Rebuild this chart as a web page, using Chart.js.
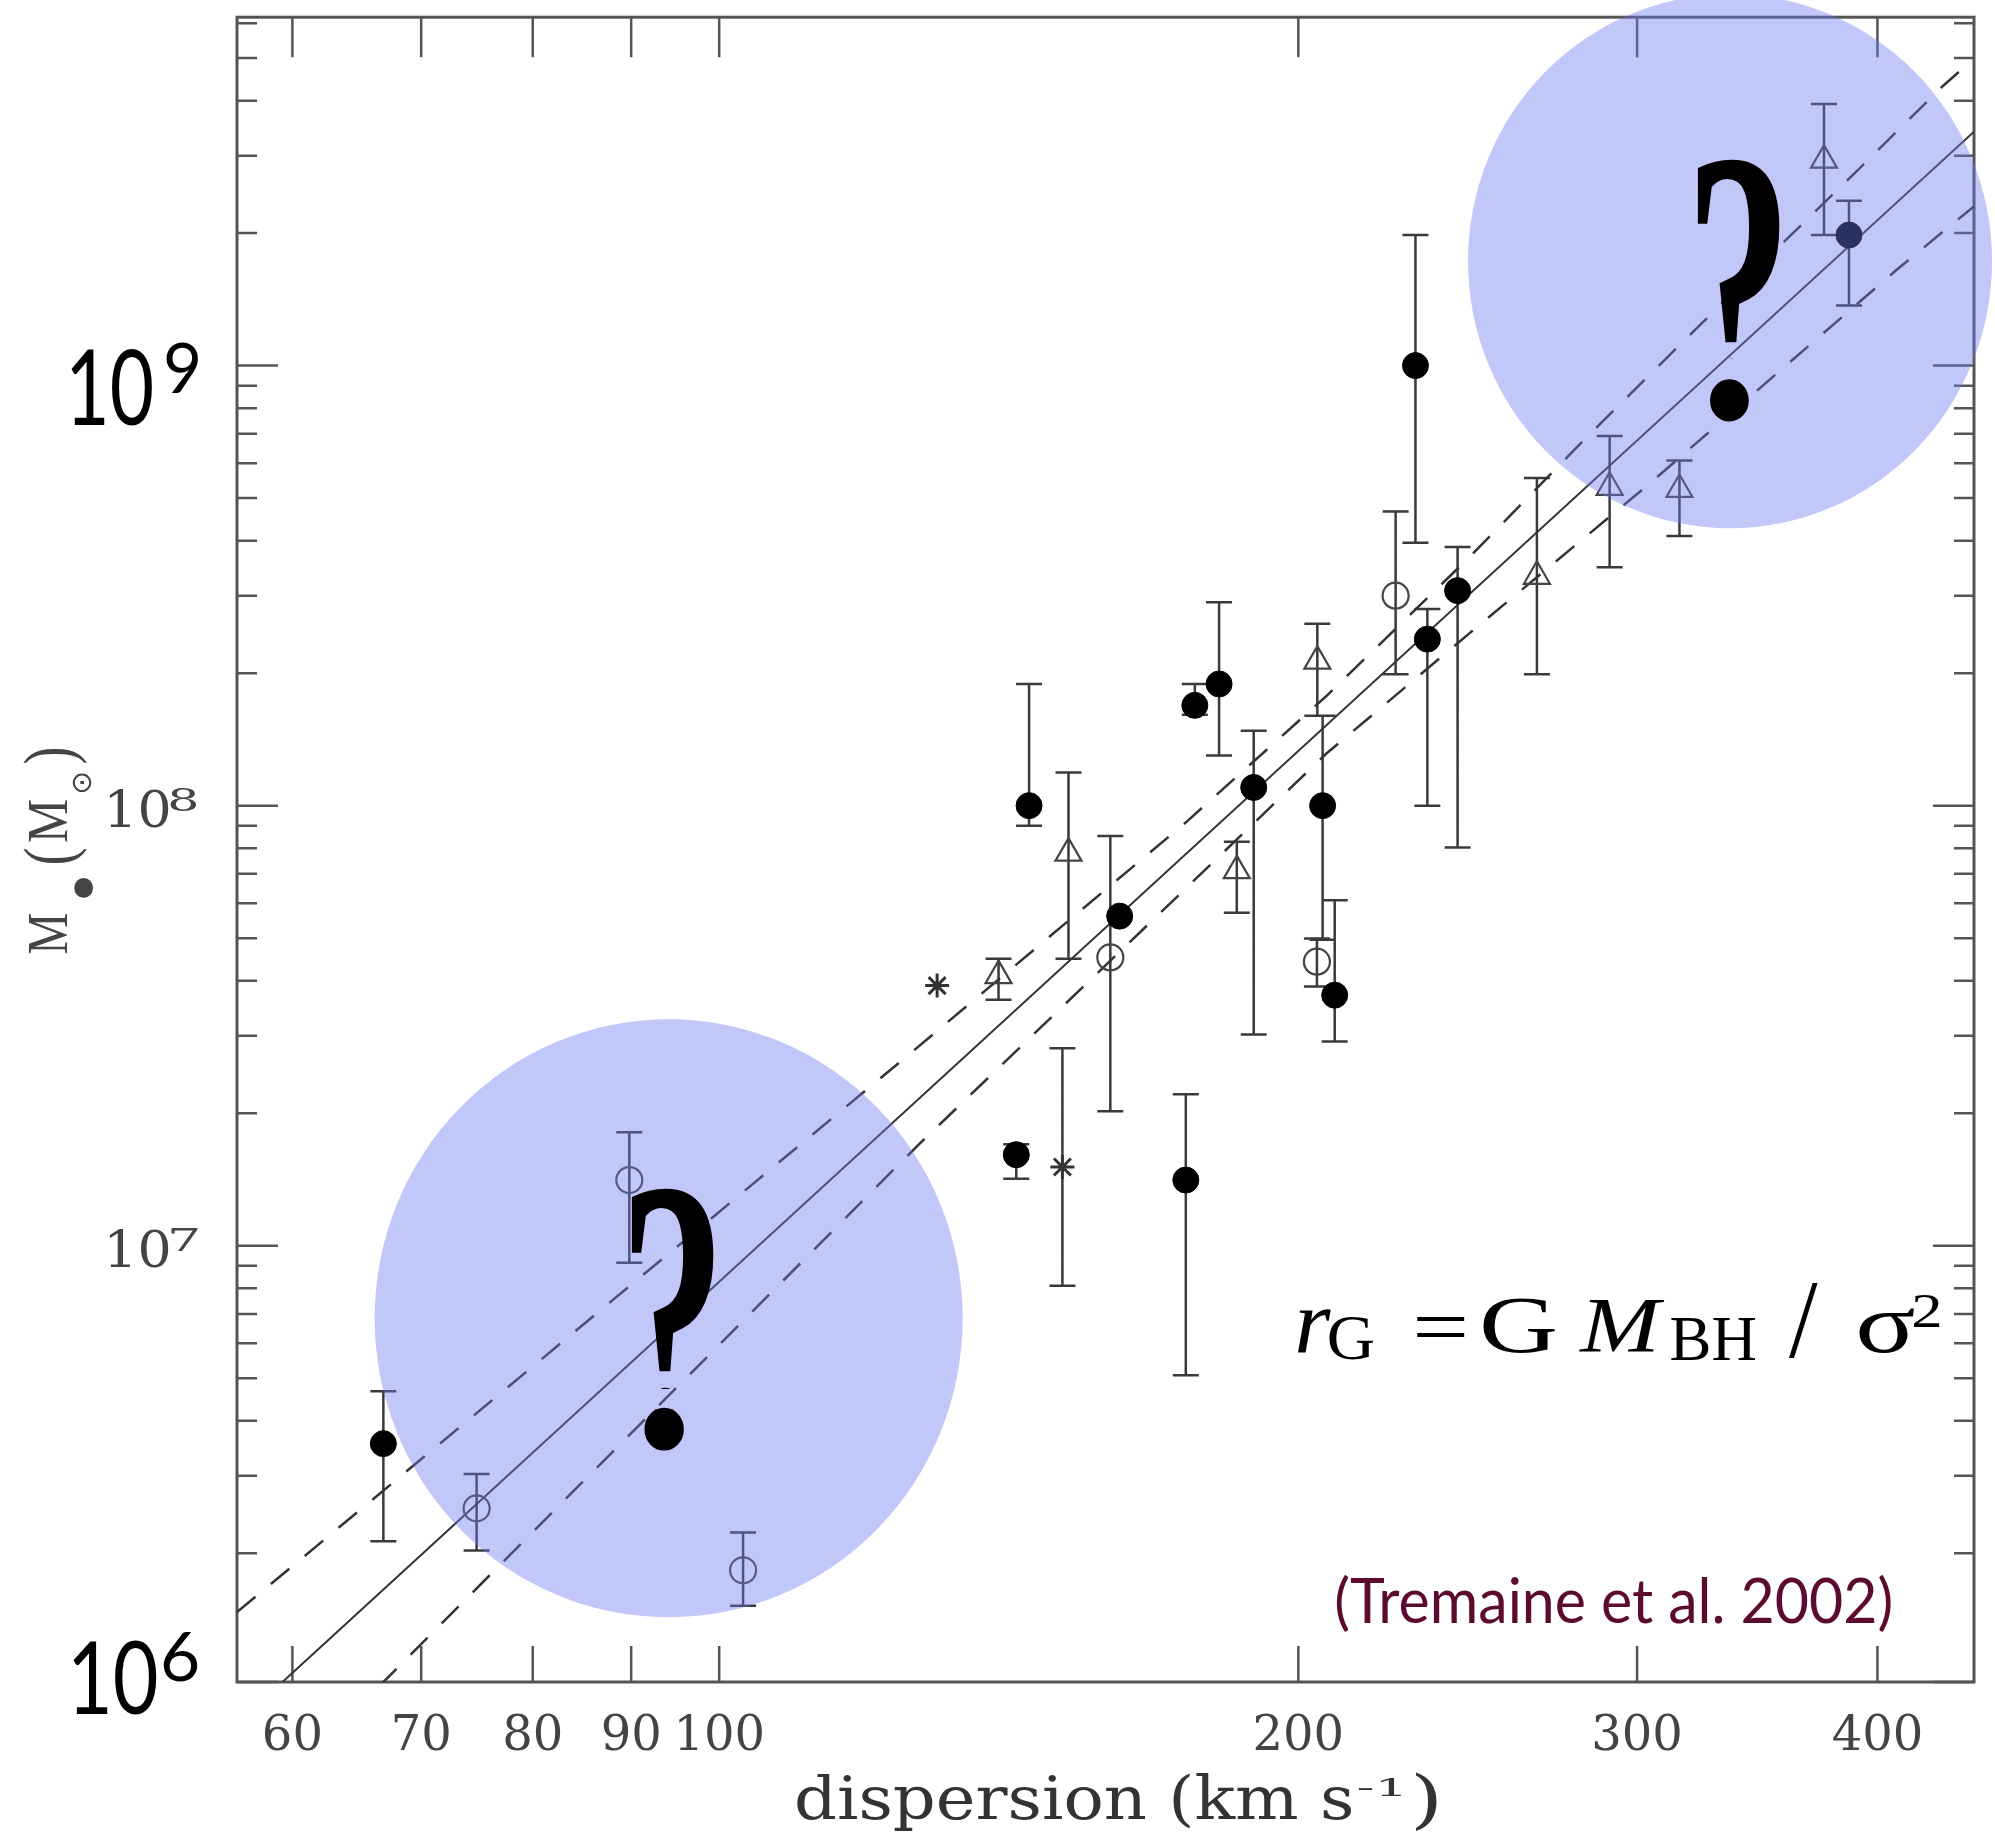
<!DOCTYPE html>
<html lang="en">
<head>
  <meta charset="UTF-8" />
  <title>M-sigma relation (Tremaine et al. 2002)</title>
  <script src="https://cdn.jsdelivr.net/npm/chart.js"></script>
  <style>
    html, body { margin: 0; padding: 0; background: #fff; }
    canvas { display: block; }
  </style>
</head>
<body>
<canvas id="msigma" width="1995" height="1840"></canvas>

<script>
// ---- values: sigma in km/s, mass in solar masses ----

// filled circles
const filledSigma = [66.9, 144.9, 142.7, 161.5, 176.7, 181.9, 189.6, 174.8, 205.9, 208.9, 230.1, 233.4, 242.0, 386.6];
const filledMass  = [3.55e6, 1.0e8, 1.61e7, 5.61e7, 1.69e8, 1.89e8, 1.1e8, 1.41e7, 1.0e8, 3.71e7, 1.0e9, 2.39e8, 3.08e8, 1.98e9];
const filledLo    = [2.13e6, 9.0e7, 1.42e7, null, 1.61e8, 1.3e8, 3.02e7, 5.08e6, 4.96e7, 2.91e7, 3.96e8, 1.0e8, 8.03e7, 1.37e9];
const filledHi    = [4.67e6, 1.89e8, 1.70e7, null, 1.89e8, 2.9e8, 1.48e8, 2.21e7, 1.6e8, 6.1e7, 1.98e9, 2.8e8, 3.87e8, 2.37e9];

// open circles
const openSigma = [224.7, 159.7, 204.5, 89.8, 74.8, 102.9];
const openMass  = [3.0e8, 4.52e7, 4.42e7, 1.41e7, 2.53e6, 1.83e6];
const openLo    = [1.99e8, 2.02e7, 3.88e7, 9.15e6, 2.03e6, 1.52e6];
const openHi    = [4.66e8, 8.53e7, 4.99e7, 1.81e7, 3.03e6, 2.23e6];

// open triangles
const triSigma = [139.7, 151.9, 185.8, 204.6, 266.1, 290.3, 315.6, 375.2];
const triMass  = [4.11e7, 7.8e7, 7.12e7, 2.13e8, 3.32e8, 5.29e8, 5.23e8, 2.93e9];
const triLo    = [3.62e7, 4.49e7, 5.71e7, 1.6e8, 1.99e8, 3.48e8, 4.1e8, 1.98e9];
const triHi    = [4.49e7, 1.19e8, 8.28e7, 2.59e8, 5.55e8, 6.92e8, 6.09e8, 3.93e9];

// asterisks
const starSigma = [129.8, 150.8];
const starMass  = [3.9e7, 1.51e7];
const starLo    = [null, 8.11e6];
const starHi    = [null, 2.81e7];

// best fit (solid) and 1-sigma band (dashed)
const fitSigma = [59.0, 449];
const fitMass  = [1.0e6, 3.4e9];
const bandHiSigma = [56.15, 87.4, 125, 175, 206.7, 245.6, 283.6, 358.5, 390, 432.6, 449];
const bandHiMass  = [1.47e6, 7.33e6, 2.68e7, 9.2e7, 1.77e8, 3.68e8, 7.0e8, 1.93e9, 2.76e9, 4.32e9, 4.98e9];
const bandLoSigma = [66.6, 127, 206.7, 245.6, 304, 408.6, 438.2, 449];
const bandLoMass  = [1.0e6, 1.70e7, 1.31e8, 2.47e8, 5.36e8, 1.64e9, 2.11e9, 2.30e9];

// axis ticks
const xTickValues = [60, 70, 80, 90, 100, 200, 300, 400];
const yDecades = [1e6, 1e7, 1e8, 1e9];
const ySmallLabels = [1e7, 1e8];
const ySmallExps = ['7', '8'];

// highlight circles (data-space centres) and the slide overlays
const highlights = [
  { sigma: 94.13, mass: 6.84e6, rx: 294, ry: 299 },
  { sigma: 335.3, mass: 1.727e9, rx: 262, ry: 267 }
];
// hook box, where the hook is cut, dot box
const questionMarks = [
  { box: [629, 1185, 716, 1451], cut: 1389, dot: [641.4, 1405.5, 686.9, 1451] },
  { box: [1695, 156, 1782, 422], cut: 359, dot: [1707, 377.2, 1751.8, 421.9] }
];

const pts = (s, m) => s.map((v, i) => ({ x: v, y: m[i] }));

// squeeze a string so its ink fills a box
function fitInk(ctx, text, font, x0, y0, x1, y1, color) {
  ctx.save();
  ctx.font = font;
  ctx.textAlign = 'left';
  ctx.textBaseline = 'alphabetic';
  const m = ctx.measureText(text);
  const w = m.actualBoundingBoxLeft + m.actualBoundingBoxRight;
  const h = m.actualBoundingBoxAscent + m.actualBoundingBoxDescent;
  ctx.translate(x0, y0);
  ctx.scale((x1 - x0) / w, (y1 - y0) / h);
  ctx.fillStyle = color;
  ctx.fillText(text, m.actualBoundingBoxLeft, m.actualBoundingBoxAscent);
  ctx.restore();
}

const errorSets = [
  { s: filledSigma, lo: filledLo, hi: filledHi },
  { s: openSigma, lo: openLo, hi: openHi },
  { s: triSigma, lo: triLo, hi: triHi },
  { s: starSigma, lo: starLo, hi: starHi }
];

// frame, inward ticks, error bars
const framePlugin = {
  id: 'frame',
  beforeDatasetsDraw(chart) {
    const { ctx, chartArea: a, scales: { x, y } } = chart;
    ctx.save();
    ctx.strokeStyle = '#555';
    ctx.lineWidth = 2.5;
    ctx.beginPath();
    xTickValues.forEach(v => {
      const px = x.getPixelForValue(v);
      ctx.moveTo(px, a.bottom); ctx.lineTo(px, a.bottom - 36);
      ctx.moveTo(px, a.top); ctx.lineTo(px, a.top + 40);
    });
    yDecades.forEach(d => {
      for (let m = 1; m <= 9; m++) {
        const v = m * d;
        if (v < 0.99e6 || v > y.max) continue;
        const py = Math.min(y.getPixelForValue(v), a.bottom);
        const len = m === 1 ? 41 : 20;
        ctx.moveTo(a.left, py); ctx.lineTo(a.left + len, py);
        ctx.moveTo(a.right, py); ctx.lineTo(a.right - len, py);
      }
    });
    ctx.stroke();
    ctx.lineWidth = 3;
    ctx.strokeRect(a.left, a.top, a.right - a.left, a.bottom - a.top);

    // error bars
    ctx.strokeStyle = '#3a3a3a';
    ctx.lineWidth = 2.5;
    ctx.beginPath();
    errorSets.forEach(set => set.s.forEach((sg, i) => {
      if (set.lo[i] == null) return;
      const px = x.getPixelForValue(sg);
      const y0 = y.getPixelForValue(set.lo[i]);
      const y1 = y.getPixelForValue(set.hi[i]);
      ctx.moveTo(px, y0); ctx.lineTo(px, y1);
      ctx.moveTo(px - 13, y0); ctx.lineTo(px + 13, y0);
      ctx.moveTo(px - 13, y1); ctx.lineTo(px + 13, y1);
    }));
    ctx.stroke();
    ctx.restore();
  },
  afterDatasetsDraw(chart) {
    const { ctx, scales: { x, y } } = chart;
    ctx.save();

    // translucent highlight circles
    ctx.fillStyle = 'rgba(104, 119, 240, 0.41)';
    highlights.forEach(h => {
      ctx.beginPath();
      ctx.ellipse(x.getPixelForValue(h.sigma), y.getPixelForValue(h.mass), h.rx, h.ry, 0, 0, Math.PI * 2);
      ctx.fill();
    });
    // question marks: narrow hook plus a round dot
    const qf = 'bold 300px "Liberation Serif"';
    questionMarks.forEach(q => {
      ctx.save();
      ctx.beginPath();
      ctx.rect(q.box[0] - 30, q.box[1] - 30, q.box[2] - q.box[0] + 60, q.cut - q.box[1] + 30);
      ctx.clip();
      fitInk(ctx, '?', qf, q.box[0], q.box[1], q.box[2], q.box[3], '#000');
      ctx.restore();
      fitInk(ctx, '.', qf, q.dot[0], q.dot[1], q.dot[2], q.dot[3], '#000');
    });

    // small y tick labels (original figure)
    ySmallLabels.forEach((v, i) => {
      const py = y.getPixelForValue(v);
      fitInk(ctx, '10', '52px "DejaVu Serif"', 109.4, py - 17, 168.5, py + 22, '#444');
      fitInk(ctx, ySmallExps[i], '30px "DejaVu Serif"', 170.5, py - 18, 197.5, py + 5, '#444');
    });
    // big overlay labels
    fitInk(ctx, '10', '100px Lato', 71.4, 348.2, 151.8, 426.3, '#000');
    fitInk(ctx, '9', '70px Lato', 166, 341.5, 198.7, 392.9, '#000');
    fitInk(ctx, '10', '100px Lato', 73.3, 1639.2, 156.3, 1714.9, '#000');
    fitInk(ctx, '6', '70px Lato', 163, 1632.3, 197.7, 1682.2, '#000');

    // y title M.(Msun), rotated
    ctx.save();
    ctx.translate(67, 953.6);
    ctx.rotate(-Math.PI / 2);
    const yf = '54px "Liberation Serif"';
    fitInk(ctx, 'M', yf, 0, -38, 40.2, 0, '#444');
    fitInk(ctx, '\u2022', yf, 55.8, 6.7, 75.9, 26.75, '#444');
    fitInk(ctx, '(', yf, 90, -45, 105, 20, '#444');
    fitInk(ctx, 'M', yf, 111.6, -38, 154, 0, '#444');
    fitInk(ctx, '\u2299', '30px "DejaVu Sans"', 160.7, 4.4, 180.8, 24.5, '#444');
    fitInk(ctx, ')', yf, 190, -45, 205, 20, '#444');
    ctx.restore();

    // x title
    fitInk(ctx, 'dispersion (km s', '46px "DejaVu Serif"', 797, 1772, 1352, 1832, '#333');
    fitInk(ctx, '-1', '26px "DejaVu Serif"', 1358.5, 1777, 1401, 1796, '#333');
    fitInk(ctx, ')', '46px "DejaVu Serif"', 1415.6, 1772, 1437.8, 1832, '#333');

    // formula
    const ff = '78px "Liberation Serif"';
    const fi = 'italic 78px "Liberation Serif"';
    const fs = '60px "Liberation Serif"';
    fitInk(ctx, 'r', fi, 1297.9, 1308.3, 1331.3, 1351.7, '#000');
    fitInk(ctx, 'G', fs, 1329.1, 1318.3, 1373.8, 1360, '#000');
    fitInk(ctx, '=', ff, 1416.2, 1316.7, 1465.3, 1337.3, '#000');
    fitInk(ctx, 'G', ff, 1483.1, 1298.3, 1554.6, 1352.7, '#000');
    fitInk(ctx, 'M', fi, 1579.1, 1300, 1664.8, 1351.7, '#000');
    fitInk(ctx, 'BH', fs, 1670.6, 1318.3, 1755.4, 1360, '#000');
    fitInk(ctx, '/', ff, 1788.9, 1284, 1817.9, 1360, '#000');
    fitInk(ctx, '\u03c3', ff, 1858, 1308.3, 1914, 1352.7, '#000');
    fitInk(ctx, '2', '46px "Liberation Serif"', 1913.9, 1294, 1939.8, 1326.7, '#000');

    // citation
    fitInk(ctx, '(Tremaine et al. 2002)', '55px Lato', 1336.3, 1575.5, 1891.5, 1632.3, '#5c0a2e');
    ctx.restore();
  }
};

const markerBase = { showLine: false, order: 1 };
const lineBase = { showLine: true, pointRadius: 0, fill: false, tension: 0, order: 3, borderColor: '#333' };

new Chart(document.getElementById('msigma').getContext('2d'), {
  type: 'scatter',
  data: {
    datasets: [
      { ...lineBase, label: 'fit', data: pts(fitSigma, fitMass), borderWidth: 2 },
      { ...lineBase, label: 'band upper', data: pts(bandHiSigma, bandHiMass), borderWidth: 2.5, borderDash: [24, 20] },
      { ...lineBase, label: 'band lower', data: pts(bandLoSigma, bandLoMass), borderWidth: 2.5, borderDash: [24, 20] },
      { ...markerBase, label: 'filled', data: pts(filledSigma, filledMass), pointStyle: 'circle', pointRadius: 13,
        backgroundColor: '#000', borderColor: '#000', borderWidth: 1 },
      { ...markerBase, label: 'open', data: pts(openSigma, openMass), pointStyle: 'circle', pointRadius: 13,
        backgroundColor: 'rgba(0,0,0,0)', borderColor: '#444', borderWidth: 2.2 },
      { ...markerBase, label: 'triangle', data: pts(triSigma, triMass), pointStyle: 'triangle', pointRadius: 15,
        backgroundColor: 'rgba(0,0,0,0)', borderColor: '#444', borderWidth: 2.2 },
      { ...markerBase, label: 'star', data: pts(starSigma, starMass), pointStyle: 'star', pointRadius: 12,
        backgroundColor: '#333', borderColor: '#333', borderWidth: 3 }
    ]
  },
  options: {
    responsive: false,
    animation: false,
    events: [],
    layout: { padding: { top: 13, right: 21, left: 0, bottom: 0 } },
    plugins: { legend: { display: false }, tooltip: { enabled: false } },
    scales: {
      x: {
        type: 'logarithmic',
        min: 56.15,
        max: 449,
        grid: { display: false },
        border: { display: false },
        ticks: {
          font: { family: 'DejaVu Serif', size: 48 },
          color: '#444',
          padding: 19,
          autoSkip: false,
          maxRotation: 0,
          callback: v => String(v)
        },
        afterBuildTicks: s => { s.ticks = xTickValues.map(v => ({ value: v })); },
        afterFit: s => { s.height = 158; }
      },
      y: {
        type: 'logarithmic',
        min: 1.02e6,
        max: 6.19e9,
        grid: { display: false },
        border: { display: false },
        ticks: { display: false },
        afterFit: s => { s.width = 237; }
      }
    }
  },
  plugins: [framePlugin]
});
</script>
</body>
</html>
